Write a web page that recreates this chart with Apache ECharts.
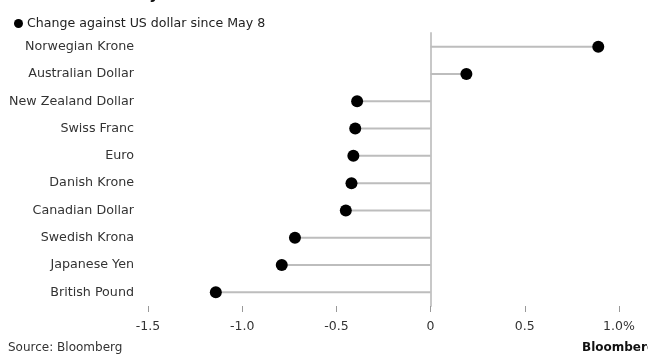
<!DOCTYPE html>
<html>
<head>
<meta charset="utf-8">
<script src="https://cdn.jsdelivr.net/npm/echarts@6/dist/echarts.min.js"></script>
<style>
  html, body { margin: 0; padding: 0; background: #fff; }
  #chart { width: 648px; height: 354px; }
</style>
</head>
<body>
<div id="chart"></div>
<script>
// Currencies, top to bottom
const currencies = [
  'Norwegian Krone', 'Australian Dollar', 'New Zealand Dollar', 'Swiss Franc', 'Euro',
  'Danish Krone', 'Canadian Dollar', 'Swedish Krona', 'Japanese Yen', 'British Pound'
];
// % change against the US dollar since May 8
const changes = [0.89, 0.19, -0.39, -0.40, -0.41, -0.42, -0.45, -0.72, -0.79, -1.14];
// x-axis ticks
const tickLabels = { '-1.5': '-1.5', '-1': '-1.0', '-0.5': '-0.5', '0': '0', '0.5': '0.5', '1': '1.0%' };

const font = 'DejaVu Sans, Verdana, sans-serif';
const chart = echarts.init(document.getElementById('chart'), null, { renderer: 'canvas' });

// category axis runs bottom-up in ECharts, so reverse the lists
const cats = currencies.slice().reverse();
const vals = changes.slice().reverse();

chart.setOption({
  animation: false,
  backgroundColor: '#ffffff',
  grid: { left: 148, right: 29, top: 33, bottom: 48 },
  legend: {
    left: 9, top: 12,
    itemWidth: 9, itemHeight: 9, itemGap: 4,
    data: [{ name: 'Change against US dollar since May 8', icon: 'circle', itemStyle: { color: '#000', opacity: 1 } }],
    textStyle: { fontFamily: font, fontSize: 12.6, color: '#222', padding: [0, 0, 0, -1] }
  },
  xAxis: {
    type: 'value', min: -1.5, max: 1.0, interval: 0.5,
    axisLine: { show: false },
    axisTick: { show: true, length: 6, lineStyle: { color: '#999', width: 1 } },
    splitLine: { show: false },
    axisLabel: {
      fontFamily: font, fontSize: 12.5, color: '#333', margin: 14,
      formatter: v => tickLabels[String(v)] ?? String(v)
    }
  },
  yAxis: {
    type: 'category', data: cats,
    axisLine: { show: true, onZero: true, lineStyle: { color: '#c8c8c8', width: 2 } },
    axisTick: { show: false },
    axisLabel: { fontFamily: font, fontSize: 12.7, color: '#333', margin: 14 }
  },
  series: [
    {
      type: 'bar', data: vals, barWidth: 2, silent: true,
      itemStyle: { color: '#bdbdbd' }, z: 1
    },
    {
      name: 'Change against US dollar since May 8',
      type: 'scatter', data: vals, symbol: 'circle', symbolSize: 12,
      itemStyle: { color: '#000', opacity: 1 }, z: 3
    }
  ],
  graphic: [
    {
      type: 'text', left: 8, top: -13,
      style: { text: 'Pound Trails Major Peers as U.K. Political Risk Rises', fontFamily: font, fontSize: 16, fontWeight: 'bold', fill: '#111' }
    },
    {
      type: 'text', left: 8, top: 342,
      style: { text: 'Source: Bloomberg', fontFamily: font, fontSize: 12, fill: '#333' }
    },
    {
      type: 'text', left: 582, top: 342,
      style: { text: 'Bloomberg', fontFamily: font, fontSize: 12, fontWeight: 'bold', fill: '#111' }
    }
  ]
});
</script>
</body>
</html>
